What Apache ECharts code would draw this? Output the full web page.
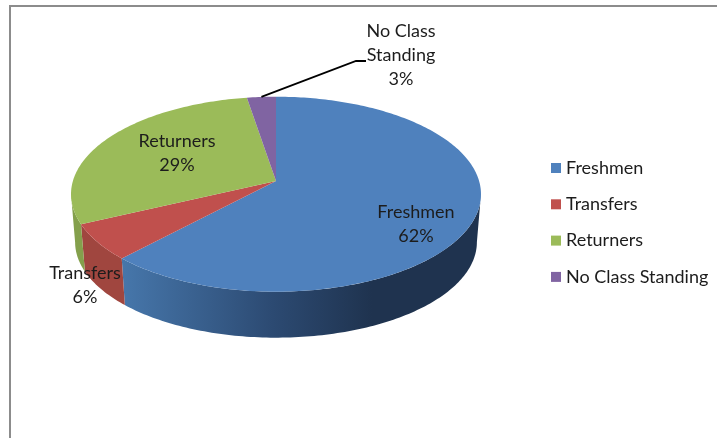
<!DOCTYPE html>
<html>
<head>
<meta charset="utf-8">
<style>
  html, body { margin: 0; padding: 0; background: #fff; }
  #main { width: 717px; height: 438px; }
</style>
<script src="https://cdn.jsdelivr.net/npm/echarts@6/dist/echarts.min.js"></script>
</head>
<body>
<div id="main"></div>
<script>
  // chart values
  const categories = ['Freshmen', 'Transfers', 'Returners', 'No Class Standing']
  const shares = [62, 6, 29.4, 2.6]
  const labelLines = [['Freshmen'], ['Transfers'], ['Returners'], ['No Class', 'Standing']]

  // colours, top face then side wall
  const faceColors = ['#4f81bd', '#c0504d', '#9bbb59', '#8064a2']
  const wallColors = [null, '#a0463f', '#84a04c', '#6d5589']
  const labelCenters = [[416, 224], [85, 285], [177, 153], [401, 55]]

  const font = '18px Lato, "Open Sans", sans-serif'
  const total = shares.reduce((a, b) => a + b, 0)

  // perspective disc: the centre of the pie does not sit at the middle of the ellipse
  const cx = 276
  const tilt = 0.1354
  // angles where the ellipse is widest, the wall only shows between them
  const wallFrom = Math.acos(-tilt) * 180 / Math.PI
  const wallTo = 360 - wallFrom
  function project(deg, y0, scale) {
    const t = deg * Math.PI / 180
    const w = 1 + tilt * Math.cos(t)
    return [cx + scale * 203.1 * Math.sin(t) / w, y0 - scale * 95.7 * Math.cos(t) / w]
  }
  function topPt(deg) { return project(deg, 181, 1) }
  function bottomPt(deg) { return project(deg, 229.2, 0.98) }
  function arc(fn, from, to) {
    const pts = []
    const n = Math.max(2, Math.ceil(to - from))
    for (let i = 0; i <= n; i++) pts.push(fn(from + (to - from) * i / n))
    return pts
  }

  function makeSlice(idx) {
    return function (params, api) {
      const start = shares.slice(0, idx).reduce((a, b) => a + b, 0) / total * 360
      const end = start + shares[idx] / total * 360
      const wallFill = idx === 0
        ? new echarts.graphic.LinearGradient(124, 0, 372, 0, [
            { offset: 0, color: '#4676aa' },
            { offset: 0.6, color: '#2c4a72' },
            { offset: 1, color: '#1f334f' }
          ], true)
        : wallColors[idx]
      const face = [[cx, 181]].concat(arc(topPt, start, end))
      const pct = Math.round(shares[idx] / total * 100) + '%'
      const children = [
        { type: 'polygon', z2: 2, shape: { points: face }, style: { fill: faceColors[idx] } },
        {
          type: 'text', z2: 5,
          style: {
            x: labelCenters[idx][0], y: labelCenters[idx][1],
            text: labelLines[idx].concat(pct).join('\n'),
            font: font, fill: '#1c1c1c', align: 'center', verticalAlign: 'middle', lineHeight: 24
          }
        }
      ]
      const a = Math.max(start, wallFrom)
      const b = Math.min(end, wallTo)
      if (b > a) {
        const wall = arc(topPt, a, b).concat(arc(bottomPt, a, b).reverse())
        children.push({ type: 'polygon', z2: 1, shape: { points: wall }, style: { fill: wallFill } })
      }
      if (idx === 3) {
        // leader line out to the label
        const p = topPt((start + end) / 2)
        children.push({
          type: 'polyline', z2: 4,
          shape: { points: [p, [356, 61], [366, 61]] },
          style: { stroke: '#000', lineWidth: 1.8, fill: null }
        })
      }
      return { type: 'group', children: children }
    }
  }

  const myChart = echarts.init(document.getElementById('main'))
  myChart.setOption({
    animation: false,
    graphic: [{
      type: 'rect',
      shape: { x: 10, y: 6, width: 900, height: 600 },
      style: { fill: 'none', stroke: '#8c8c8c', lineWidth: 2 }
    }],
    legend: {
      orient: 'vertical',
      left: 551,
      top: 159,
      padding: 0,
      itemWidth: 10,
      itemHeight: 10,
      itemGap: 18.3,
      itemTextGap: 5,
      icon: 'rect',
      data: categories,
      textStyle: { fontFamily: 'Lato', fontSize: 18, color: '#1c1c1c' }
    },
    series: categories.map((name, i) => ({
      type: 'custom',
      name: name,
      coordinateSystem: 'none',
      itemStyle: { color: faceColors[i] },
      renderItem: makeSlice(i),
      data: [shares[i]]
    }))
  })
</script>
</body>
</html>
